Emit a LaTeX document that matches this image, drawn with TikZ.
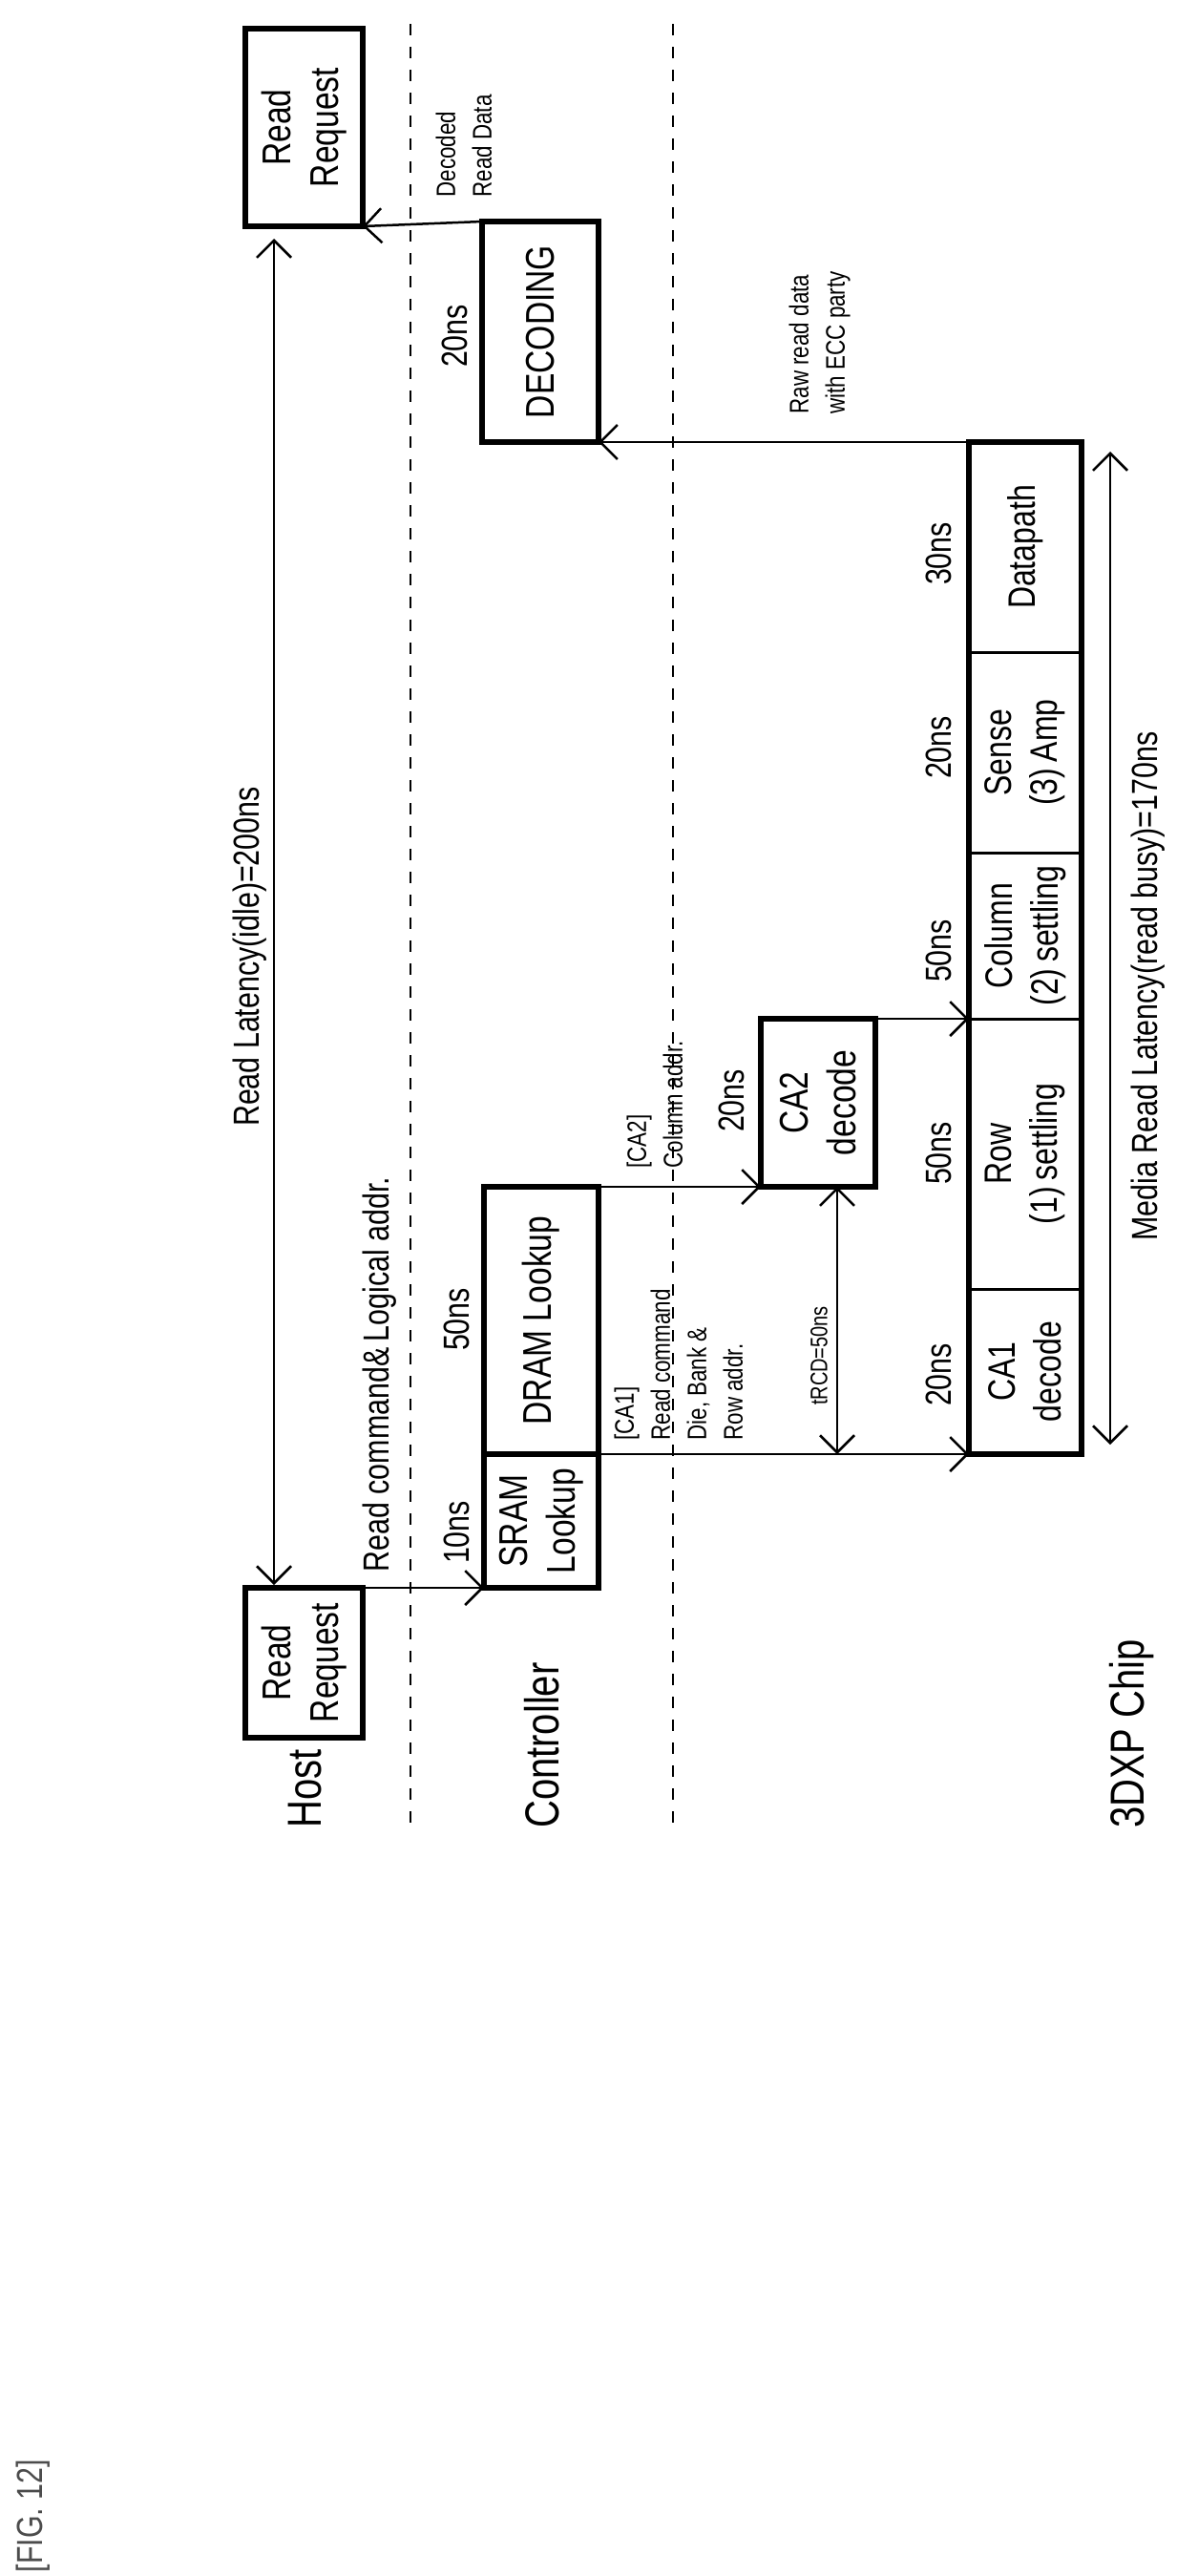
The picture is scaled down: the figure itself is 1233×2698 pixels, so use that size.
\documentclass[tikz,border=0pt]{standalone}
\usepackage{fontspec}
\setmainfont{Liberation Sans}[FakeStretch=0.8]
\usetikzlibrary{arrows.meta,calc}
\tikzset{
  box/.style={rectangle, draw=black, line width=6pt, rotate=90, align=center, inner sep=0pt, outer sep=0pt, font=\fontsize{42}{50}\selectfont},
  cell/.style={rectangle, draw=black, line width=3pt, rotate=90, align=center, inner sep=0pt, outer sep=0pt, minimum height=118, font=\fontsize{40}{48}\selectfont},
  lbl/.style={rotate=90, font=\fontsize{38}{46}\selectfont},
  small/.style={rotate=90, align=left, font=\fontsize{28}{38}\selectfont},
  big/.style={rotate=90, anchor=west, inner sep=0pt, font=\fontsize{50}{60}\selectfont},
  arr/.style={-{Straight Barb[length=18pt,width=36pt,line width=2.5pt]}, line width=2.5pt},
  darr/.style={{Straight Barb[length=18pt,width=36pt,line width=2.5pt]}-{Straight Barb[length=18pt,width=36pt,line width=2.5pt]}, line width=2.5pt},
  lane/.style={dash pattern=on 12pt off 12pt, line width=2.5pt}
}
\begin{document}
\begin{tikzpicture}[x=1pt, y=-1pt]
\useasboundingbox (0,0) rectangle (1233,2698);

% lanes
\draw[lane] (430,25) -- (430,1920);
\draw[lane] (705,25) -- (705,1920);
\node[big] (host) at (320,1915) {Host};
\node[big] (ctrl) at (568,1915) {Controller};
\node[big] (chip) at (1186,1915) {3DXP Chip};

% host and controller boxes
\node[box, minimum width=157, minimum height=123] (rrB) at (318.5,1741.5) {Read\\Request};
\node[box, minimum width=207, minimum height=123] (rrT) at (318.5,133.5) {Read\\Request};
\node[box, minimum width=140, minimum height=120] (sram) at (567,1593) {SRAM\\Lookup};
\node[box, minimum width=280, minimum height=120] (dram) at (567,1383) {DRAM Lookup};
\node[box, minimum width=176, minimum height=120] (ca2) at (857,1155) {CA2\\decode};
\node[box, minimum width=231, minimum height=122] (deco) at (566,347.5) {DECODING};

% 3DXP blocks
\node[cell, minimum width=173] (ca1) at (1074,1436.5) {CA1\\decode};
\node[cell, minimum width=283] (row) at (1074,1208.5) {Row\\(1)\,settling};
\node[cell, minimum width=174] (col) at (1074,980) {Column\\(2)\,settling};
\node[cell, minimum width=210] (sense) at (1074,788) {Sense\\(3)\,Amp};
\node[cell, minimum width=220] (data) at (1074,573) {Datapath};
\draw[line width=6pt] (1015,463) rectangle (1133,1523);

% timings
\node[lbl] (t10) at (478,1605) {10ns};
\node[lbl] (t50a) at (478,1382) {50ns};
\node[lbl] (t20a) at (766,1153) {20ns};
\node[lbl] (t20b) at (983,1440) {20ns};
\node[lbl] (t50b) at (983,1208) {50ns};
\node[lbl] (t50c) at (983,996) {50ns};
\node[lbl] (t20c) at (983,783) {20ns};
\node[lbl] (t30) at (983,580) {30ns};
\node[lbl] (t20d) at (476,352) {20ns};

% flow
\draw[arr] (rrB.south east) -- (sram.north west);
\node[lbl, anchor=west] (cmd) at (398,1650) {Read command\&\,Logical addr.};
\draw[arr] (sram.south east) -- (ca1.north west);
\node[small, anchor=north west] (ca1txt) at (640,1512) {[CA1]\\Read command\\Die, Bank \&\\Row addr.};
\draw[arr] (dram.south east) -- (ca2.north west);
\node[small, anchor=north west] (ca2txt) at (653,1227) {[CA2]\\Column addr.};
\draw[arr] (ca2.south east) -- (row.north east);
\draw[arr] (data.north east) -- (deco.south west);
\node[small, anchor=north west] (rawtxt) at (823,437) {Raw read data\\with ECC party};
\draw[arr] (deco.north east) -- (rrT.south west);
\node[small, anchor=north west] (dectxt) at (453,210) {Decoded\\Read Data};

% latencies
\coordinate (trcdT) at ($(ca2.west)+(20,0)$);
\coordinate (trcdB) at (trcdT |- ca1.west);
\draw[darr] (trcdT) -- (trcdB);
\node[small, font=\fontsize{25}{30}\selectfont] (trcd) at (858,1420) {tRCD=50ns};
\coordinate (idleT) at (287,250);
\coordinate (idleB) at (287,1660);
\draw[darr] (idleT) -- (idleB);
\node[lbl] (idle) at (262,1002) {Read Latency(idle)=200ns};
\coordinate (busyT) at (1163,473);
\coordinate (busyB) at (1163,1513);
\draw[darr] (busyT) -- (busyB);
\node[lbl] (busy) at (1203,1033) {Media Read Latency(read busy)=170ns};

\node[lbl, text=black!70] (fig) at (35,2635) {[FIG. 12]};
\end{tikzpicture}
\end{document}
